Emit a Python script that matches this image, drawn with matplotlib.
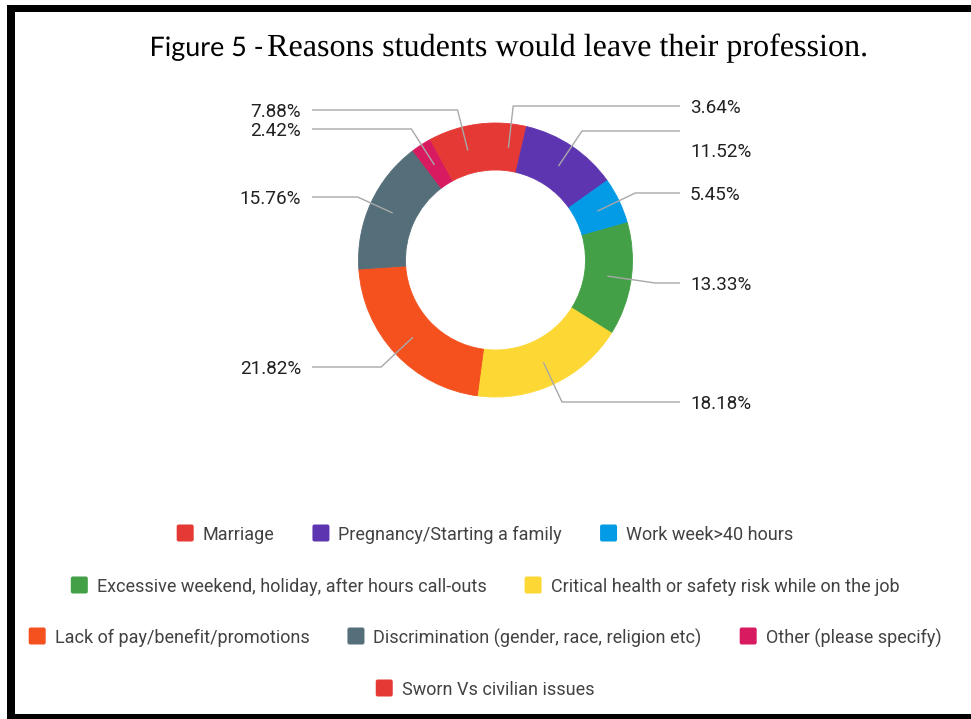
import numpy as np
import matplotlib
matplotlib.use("Agg")
import matplotlib.pyplot as plt
from matplotlib.patches import FancyBboxPatch, Rectangle, PathPatch
from matplotlib.textpath import TextPath
from matplotlib.font_manager import FontProperties
from matplotlib.transforms import Affine2D

# categories in legend order
categories = ["Marriage", "Pregnancy/Starting a family", "Work week>40 hours",
              "Excessive weekend, holiday, after hours call-outs",
              "Critical health or safety risk while on the job",
              "Lack of pay/benefit/promotions",
              "Discrimination (gender, race, religion etc)",
              "Other (please specify)", "Sworn Vs civilian issues"]
shares = [7.88, 11.52, 5.45, 13.33, 18.18, 21.82, 15.76, 2.42, 3.64]
colors = ["#E53935", "#5E35B1", "#039BE5", "#43A047", "#FDD835",
          "#F4511E", "#546E7A", "#D81B60", "#E53935"]
# clockwise drawing order starting at 12 o'clock
pie_order = [8, 1, 2, 3, 4, 5, 6, 7, 0]
# legend rows (indices into categories)
legend_rows = [[0, 1, 2], [3, 4], [5, 6, 7], [8]]

# layout (pixels, y measured from top)
W, H = 971, 719
cx, cy, R, hole = 495.5, 260, 137, 90
label_line_y = [110, 131, 193, 283, 402, 367, 197, 129, 106]
label_text_dy = [0, 19, 0, 0, 0, 0, 0, 0, 0]
row_y = [533, 585, 636, 688]

def py(y):
    return H - y

fig = plt.figure(figsize=(W / 100, H / 100), dpi=100)
ax = fig.add_axes([0, 0, 1, 1])

vals = [shares[i] for i in pie_order]
cols = [colors[i] for i in pie_order]
wedges, _ = ax.pie(vals, colors=cols, startangle=90, counterclock=False,
                   radius=R, center=(cx, py(cy)), frame=False,
                   wedgeprops=dict(width=R - hole, linewidth=0.6))
for w in wedges:
    w.set_edgecolor(w.get_facecolor())
ax.set_xlim(0, W)
ax.set_ylim(0, H)
ax.set_aspect("auto")
ax.axis("off")

# leader lines + percentage labels
for w, i in zip(wedges, pie_order):
    th = np.deg2rad((w.theta1 + w.theta2) / 2)
    dx, dy = np.cos(th), np.sin(th)
    x0, y0 = cx + 113 * dx, py(cy) + 113 * dy
    ly = py(label_line_y[i])
    t = (ly - y0) / dy if abs(dy) > 1e-6 else 0
    ex = x0 + t * dx
    right = dx > 0
    xe = 680 if right else 312
    ax.plot([x0, ex, xe], [y0, ly, ly], color="#a8a8a8", lw=1, zorder=3,
            solid_capstyle="butt")
    ax.text(690 if right else 301, ly - label_text_dy[i], f"{shares[i]:.2f}%",
            ha="left" if right else "right", va="center_baseline",
            fontsize=13.6, family="Roboto", color="#212121")

# legend
fig.canvas.draw()
rend = fig.canvas.get_renderer()
box, gap, sep = 17, 9, 38
for r, row in enumerate(legend_rows):
    txts = []
    for i in row:
        t = ax.text(0, py(row_y[r]), categories[i], fontsize=13, family="Roboto",
                    color="#424242", va="center_baseline", ha="left")
        txts.append(t)
    widths = [t.get_window_extent(rend).width for t in txts]
    total = sum(box + gap + wd for wd in widths) + sep * (len(row) - 1)
    x = 485 - total / 2
    for i, t, wd in zip(row, txts, widths):
        ax.add_patch(FancyBboxPatch((x + 2, py(row_y[r]) - box / 2 + 2), box - 4, box - 4,
                                    boxstyle="round,pad=2", fc=colors[i], ec="none"))
        t.set_x(x + box + gap)
        x += box + gap + wd + sep

# title: two fonts, sized so each part fills its span in the reference
def fitted_text(s, family, x0, x1, base):
    tp = TextPath((0, 0), s, size=20, prop=FontProperties(family=family))
    ext = tp.get_extents()
    k = (x1 - x0) / ext.width
    tr = Affine2D().translate(-ext.x0, 0).scale(k).translate(x0, py(base))
    ax.add_patch(PathPatch(tr.transform_path(tp), fc="black", ec="none", lw=0))

fitted_text("Figure 5 -", "Lato", 152, 262, 56)
fitted_text("Reasons students would leave their profession.", "Liberation Serif",
            268, 866, 56)

# black frame
ax.add_patch(Rectangle((7, py(12)), W - 7, 7, fc="black", ec="none"))
ax.add_patch(Rectangle((7, 0), 8, py(5), fc="black", ec="none"))
ax.add_patch(Rectangle((7, 0), W - 7, 5, fc="black", ec="none"))

fig.savefig("out.png", dpi=100, facecolor="white")
